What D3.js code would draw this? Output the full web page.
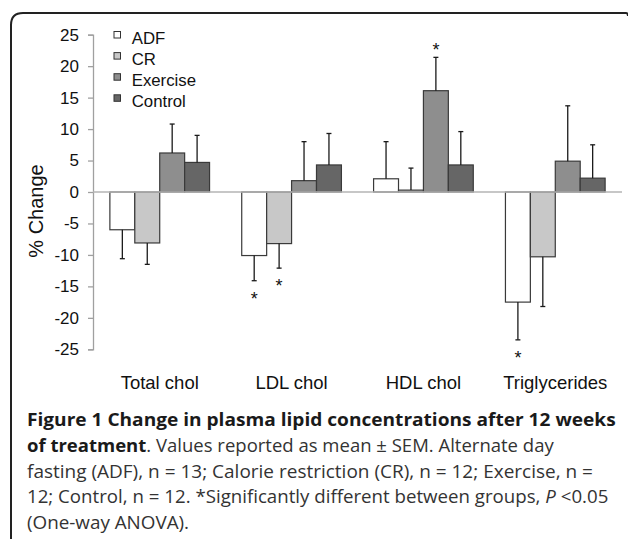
<!DOCTYPE html>
<html>
<head>
<meta charset="utf-8">
<script src="https://cdn.jsdelivr.net/npm/d3@7"></script>
<style>
  body { margin: 0; background: #fff; }
  svg { display: block; }
</style>
</head>
<body>
<div id="figure"></div>
<script>
// data (% change, mean and SEM)
var categories = ["Total chol", "LDL chol", "HDL chol", "Triglycerides"];
var groups = ["ADF", "CR", "Exercise", "Control"];
var adf = [-6.0, -10.1, 2.1, -17.5];
var cr = [-8.1, -8.2, 0.3, -10.3];
var exercise = [6.2, 1.8, 16.1, 4.9];
var control = [4.7, 4.3, 4.3, 2.2];
var adfSem = [4.6, 4.0, 5.9, 6.0];
var crSem = [3.4, 3.9, 3.5, 7.9];
var exerciseSem = [4.6, 6.2, 5.3, 8.8];
var controlSem = [4.3, 5.0, 5.3, 5.3];
// * = significantly different
var adfSig = [0, 1, 0, 1];
var crSig = [0, 1, 0, 0];
var exerciseSig = [0, 0, 1, 0];
var controlSig = [0, 0, 0, 0];
var yTicks = [-25, -20, -15, -10, -5, 0, 5, 10, 15, 20, 25];

var colors = ["#ffffff", "#c8c8c8", "#8e8e8e", "#666666"];

var W = 628, H = 539;
var svg = d3.select("#figure").append("svg")
    .attr("width", W).attr("height", H);

// frame (rounded top-left corner, open to the right and bottom)
svg.append("path")
    .attr("d", "M11,539 V25 Q11,13 23,13 H626 Q628,13 628,16")
    .attr("fill", "none")
    .attr("stroke", "#222")
    .attr("stroke-width", 2);

var series = [
  {name: groups[0], vals: adf, sem: adfSem, sig: adfSig},
  {name: groups[1], vals: cr, sem: crSem, sig: crSig},
  {name: groups[2], vals: exercise, sem: exerciseSem, sig: exerciseSig},
  {name: groups[3], vals: control, sem: controlSem, sig: controlSig}
];

var rows = [];
categories.forEach(function(c, i) {
  series.forEach(function(s, j) {
    rows.push({cat: c, group: s.name, idx: j, v: s.vals[i], e: s.sem[i], sig: s.sig[i]});
  });
});

var y = d3.scaleLinear().domain([-25, 25]).range([349.3, 34.7]);
var x = d3.scaleBand().domain(categories).range([93, 622])
    .paddingInner(0.244).paddingOuter(0.128);
var xs = d3.scaleBand().domain(groups).range([0, x.bandwidth()]);

var chartFont = "'Liberation Sans', Arial, sans-serif";

// y axis
var yAxis = d3.axisLeft(y).tickValues(yTicks).tickSize(5).tickPadding(9)
    .tickFormat(function(d) { return String(d); });
var gy = svg.append("g")
    .attr("transform", "translate(93,0)")
    .call(yAxis);
gy.select(".domain").attr("stroke", "#a0a0a0").attr("stroke-width", 1.3);
gy.selectAll(".tick line").attr("stroke", "#a0a0a0").attr("stroke-width", 1.3);
gy.selectAll(".tick text")
    .attr("fill", "#111")
    .style("font-family", chartFont)
    .style("font-size", "17px");

svg.append("text")
    .attr("transform", "translate(43,211) rotate(-90)")
    .attr("text-anchor", "middle")
    .style("font-family", chartFont)
    .style("font-size", "20px")
    .attr("fill", "#111")
    .text("% Change");

// bars
var bars = svg.append("g");
bars.selectAll("rect")
    .data(rows)
    .enter().append("rect")
    .attr("x", function(d) { return x(d.cat) + xs(d.group); })
    .attr("width", xs.bandwidth())
    .attr("y", function(d) { return y(Math.max(0, d.v)); })
    .attr("height", function(d) { return Math.abs(y(d.v) - y(0)); })
    .attr("fill", function(d) { return colors[d.idx]; })
    .attr("stroke", "#3a3a3a")
    .attr("stroke-width", 1.2);

// zero line
svg.append("line")
    .attr("x1", 93).attr("x2", 622)
    .attr("y1", y(0)).attr("y2", y(0))
    .attr("stroke", "#b4b4b4")
    .attr("stroke-width", 1.3);

// error bars (one sided, away from zero)
var err = svg.append("g").attr("stroke", "#1a1a1a").attr("stroke-width", 1.3);
rows.forEach(function(d) {
  var cx = x(d.cat) + xs(d.group) + xs.bandwidth() / 2;
  var end = d.v >= 0 ? d.v + d.e : d.v - d.e;
  err.append("line")
      .attr("x1", cx).attr("x2", cx)
      .attr("y1", y(d.v)).attr("y2", y(end));
  err.append("line")
      .attr("x1", cx - 2.5).attr("x2", cx + 2.5)
      .attr("y1", y(end)).attr("y2", y(end));
});

// significance stars
svg.append("g").selectAll("text")
    .data(rows.filter(function(d) { return d.sig; }))
    .enter().append("text")
    .attr("x", function(d) { return x(d.cat) + xs(d.group) + xs.bandwidth() / 2; })
    .attr("y", function(d) {
      var end = d.v >= 0 ? d.v + d.e : d.v - d.e;
      return d.v >= 0 ? y(end) - 11 + 10 : y(end) + 14 + 10;
    })
    .attr("text-anchor", "middle")
    .style("font-family", chartFont)
    .style("font-size", "18px")
    .attr("fill", "#111")
    .text("*");

// category labels
svg.append("g").selectAll("text")
    .data(categories)
    .enter().append("text")
    .attr("x", function(d) { return x(d) + x.bandwidth() / 2; })
    .attr("y", 389.3)
    .attr("text-anchor", "middle")
    .style("font-family", chartFont)
    .style("font-size", "18.5px")
    .attr("fill", "#111")
    .text(function(d) { return d; });

// legend
var legend = svg.append("g").selectAll("g")
    .data(groups)
    .enter().append("g")
    .attr("transform", function(d, i) { return "translate(114," + (44 + i * 21.1) + ")"; });
legend.append("rect")
    .attr("x", 0).attr("y", -12.5)
    .attr("width", 6.5).attr("height", 6.5)
    .attr("fill", function(d, i) { return colors[i]; })
    .attr("stroke", "#333")
    .attr("stroke-width", 1);
legend.append("text")
    .attr("x", 17.7)
    .attr("y", 0)
    .style("font-family", chartFont)
    .style("font-size", "16.8px")
    .attr("fill", "#111")
    .text(function(d) { return d; });

// caption
var capLines = [
  [{t: "Figure 1 Change in plasma lipid concentrations after 12 weeks", b: 1}],
  [{t: "of treatment", b: 1}, {t: ". Values reported as mean \u00b1 SEM. Alternate day"}],
  [{t: "fasting (ADF), n = 13; Calorie restriction (CR), n = 12; Exercise, n ="}],
  [{t: "12; Control, n = 12. *Significantly different between groups, "}, {t: "P", i: 1}, {t: " <0.05"}],
  [{t: "(One-way ANOVA)."}]
];
// where each line ends in the figure (last line: use the regular-text factor)
var capEnds = [616, 554, 593, 609, null];

var cap = svg.append("g")
    .style("font-family", "'Open Sans', 'Noto Sans', sans-serif")
    .style("font-size", "18px")
    .attr("fill", "#222");
var factors = [];
capLines.forEach(function(line, i) {
  var t = cap.append("text").attr("x", 0).attr("y", 0);
  line.forEach(function(p) {
    t.append("tspan")
        .style("font-weight", p.b ? "bold" : "normal")
        .style("font-style", p.i ? "italic" : "normal")
        .attr("fill", p.b ? "#1a1a1a" : "#333")
        .text(p.t);
  });
  var k;
  if (capEnds[i] != null) {
    k = (capEnds[i] - 27) / t.node().getComputedTextLength();
  } else {
    k = (factors[2] + factors[3]) / 2;
  }
  factors.push(k);
  t.attr("transform", "translate(27," + (426 + i * 25.8) + ") scale(" + k + ",1)");
});
</script>
</body>
</html>
